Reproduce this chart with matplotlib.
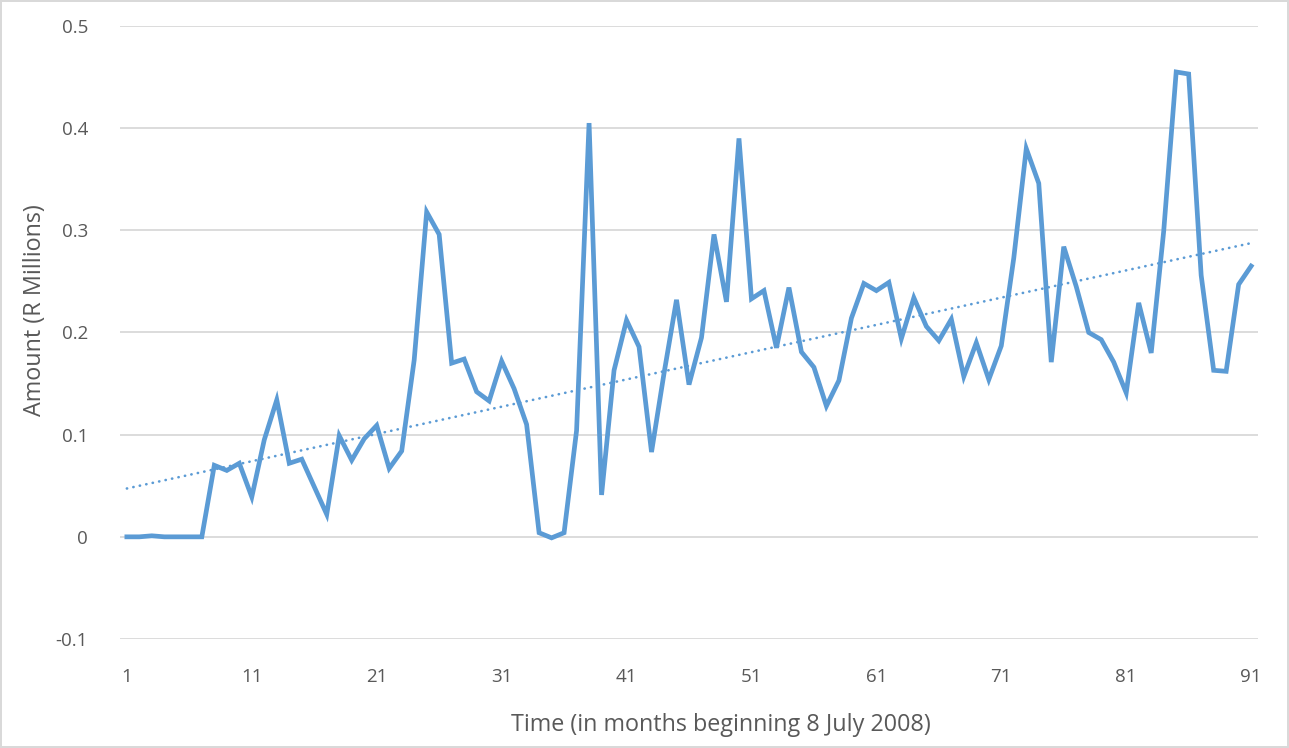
import numpy as np
import matplotlib
matplotlib.use("Agg")
import matplotlib.pyplot as plt

plt.rcParams['font.family'] = ['Open Sans', 'DejaVu Sans']

# monthly amounts, R millions
months = list(range(1, 92))
amounts = [
    0.000, 0.000, 0.001, 0.000, 0.000, 0.000, 0.000, 0.070, 0.065, 0.072,
    0.039, 0.095, 0.134, 0.072, 0.076, 0.049, 0.022, 0.099, 0.075, 0.096,
    0.109, 0.067, 0.084, 0.173, 0.318, 0.296, 0.170, 0.174, 0.142, 0.133,
    0.172, 0.145, 0.110, 0.004, -0.001, 0.004, 0.104, 0.405, 0.041, 0.163,
    0.212, 0.186, 0.083, 0.160, 0.232, 0.149, 0.195, 0.296, 0.230, 0.390,
    0.233, 0.241, 0.185, 0.244, 0.181, 0.166, 0.128, 0.153, 0.214, 0.248,
    0.241, 0.249, 0.194, 0.234, 0.206, 0.192, 0.213, 0.157, 0.190, 0.154,
    0.187, 0.273, 0.380, 0.346, 0.171, 0.284, 0.245, 0.200, 0.193, 0.171,
    0.141, 0.229, 0.180, 0.299, 0.455, 0.453, 0.256, 0.163, 0.162, 0.247,
    0.265,
]
x_ticks = [1, 11, 21, 31, 41, 51, 61, 71, 81, 91]
y_ticks = [-0.1, 0, 0.1, 0.2, 0.3, 0.4, 0.5]
y_tick_labels = ['-0.1', '0', '0.1', '0.2', '0.3', '0.4', '0.5']

blue = '#5B9BD5'
grey_text = '#595959'

fig = plt.figure(figsize=(12.89, 7.48), dpi=100)
fig.patch.set_edgecolor('#D9D9D9')
fig.patch.set_linewidth(1.5)
ax = fig.add_axes([120 / 1289, 109 / 748, 1138 / 1289, 613 / 748])

ax.plot(months, amounts, color=blue, lw=3.4, solid_joinstyle='miter', zorder=3)

# linear trend line
slope, intercept = np.polyfit(months, amounts, 1)
xs = np.array([months[0], months[-1]])
ax.plot(xs, slope * xs + intercept, color=blue, lw=1.9, linestyle=(0, (0.1, 2.4)),
        dash_capstyle='round', zorder=2)

ax.set_xlim(0.45, 91.55)
ax.set_ylim(-0.1, 0.5)
ax.set_xticks(x_ticks)
ax.set_yticks(y_ticks)
ax.set_yticklabels(y_tick_labels)
ax.grid(axis='y', color='#D9D9D9', lw=1.3)
ax.set_axisbelow(True)
for s in ax.spines.values():
    s.set_visible(False)
ax.tick_params(length=0, labelsize=13.5, labelcolor=grey_text)
ax.tick_params(axis='x', pad=21)
ax.tick_params(axis='y', pad=23)

fig.text(35 / 1289, 1 - 310 / 748, 'Amount (R Millions)', rotation=90,
         ha='center', va='center', fontsize=16.8, color=grey_text)
fig.text(721 / 1289, 1 - 725 / 748, 'Time (in months beginning 8 July 2008)',
         ha='center', va='center', fontsize=16.8, color=grey_text)

fig.savefig('out.png', dpi=100)
